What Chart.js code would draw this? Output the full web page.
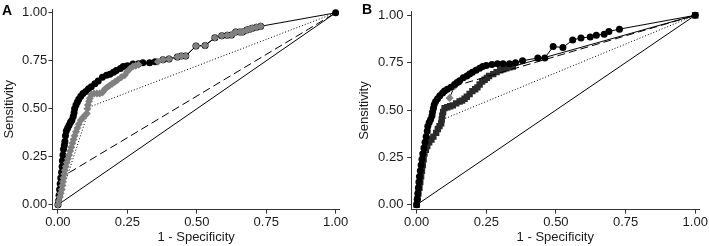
<!DOCTYPE html>
<html>
<head>
<meta charset="utf-8">
<script src="https://cdn.jsdelivr.net/npm/chart.js@4.4.0/dist/chart.umd.min.js"></script>
<style>
html, body { margin: 0; padding: 0; background: #fff; }
#wrap { position: relative; width: 709px; height: 246px; overflow: hidden; }
.panel { position: absolute; top: 0; height: 246px; }
#pa { left: 0; width: 355px; }
#pb { left: 355px; width: 354px; }
.tag { position: absolute; font: bold 14px "Liberation Sans", Arial, sans-serif; color: #000; line-height: 16px; }
</style>
</head>
<body>
<div id="wrap">
  <div class="panel" id="pa"><canvas id="chartA"></canvas></div>
  <div class="panel" id="pb"><canvas id="chartB"></canvas></div>
  <div class="tag" style="left:2px;top:2px">A</div>
  <div class="tag" style="left:362px;top:1px">B</div>
</div>
<script>
// axis ticks, shared by both panels
var tickVals = [0, 0.25, 0.5, 0.75, 1];

// panel A - black circles
var aBlackFpr = [0,0.002,0.004,0.006,0.008,0.01,0.013,0.015,0.016,0.018,0.02,0.023,0.025,0.027,0.03,0.035,0.04,0.045,0.05,0.055,0.058,0.06,0.065,0.07,0.075,0.082,0.09,0.1,0.11,0.12,0.133,0.145,0.16,0.175,0.187,0.2,0.21,0.225,0.235,0.25,0.27,0.29,0.306,0.33,0.35,0.378,0.4,0.43,0.445,0.46,0.497,0.53,0.565,0.59,0.61,0.625,0.64,0.655,0.665,0.68,0.69,0.7,0.715,0.73,1];
var aBlackTpr = [0,0.02,0.05,0.08,0.11,0.14,0.17,0.2,0.23,0.26,0.29,0.31,0.33,0.36,0.385,0.4,0.415,0.43,0.44,0.46,0.48,0.5,0.52,0.535,0.55,0.565,0.58,0.59,0.605,0.615,0.63,0.645,0.665,0.675,0.68,0.69,0.7,0.71,0.72,0.725,0.733,0.735,0.74,0.74,0.745,0.755,0.76,0.77,0.775,0.775,0.827,0.83,0.87,0.88,0.883,0.885,0.9,0.9,0.9,0.91,0.915,0.92,0.925,0.93,1];

// panel A - grey diamonds
var aGreyFpr = [0,0.003,0.007,0.01,0.014,0.016,0.018,0.02,0.023,0.025,0.028,0.032,0.036,0.04,0.044,0.048,0.052,0.056,0.06,0.065,0.07,0.075,0.082,0.09,0.097,0.104,0.106,0.108,0.112,0.115,0.12,0.13,0.14,0.15,0.16,0.168,0.175,0.185,0.195,0.205,0.215,0.228,0.24,0.25,0.26,0.27,0.28,0.29,0.36,0.378,0.4,0.43,0.445,0.46,0.497,0.53,0.565,0.59,0.61,0.625,0.64,0.655,0.665,0.68,0.69,0.7,0.715,0.73];
var aGreyTpr = [0,0.02,0.04,0.06,0.08,0.1,0.12,0.14,0.16,0.18,0.2,0.22,0.24,0.26,0.28,0.3,0.32,0.34,0.36,0.38,0.4,0.42,0.44,0.455,0.465,0.475,0.5,0.52,0.54,0.555,0.575,0.58,0.58,0.58,0.585,0.6,0.61,0.62,0.63,0.64,0.65,0.665,0.675,0.695,0.71,0.72,0.725,0.73,0.745,0.755,0.76,0.77,0.775,0.775,0.827,0.83,0.87,0.88,0.883,0.885,0.9,0.9,0.9,0.91,0.915,0.92,0.925,0.93];

// panel A - single cut-off lines
var aDotFpr = [0, 0.115, 1];
var aDotTpr = [0, 0.51, 1];
var aDashFpr = [0, 0.02, 1];
var aDashTpr = [0, 0.15, 1];

// panel B - black circles
var bBlackFpr = [0,0.002,0.004,0.006,0.008,0.01,0.013,0.016,0.019,0.022,0.026,0.03,0.034,0.038,0.04,0.045,0.05,0.055,0.057,0.06,0.063,0.068,0.075,0.083,0.093,0.1,0.11,0.123,0.136,0.145,0.154,0.167,0.18,0.19,0.2,0.213,0.226,0.237,0.25,0.27,0.29,0.31,0.333,0.355,0.38,0.435,0.46,0.49,0.525,0.56,0.59,0.623,0.645,0.673,0.69,0.728,1];
var bBlackTpr = [0,0.03,0.06,0.09,0.12,0.15,0.18,0.21,0.24,0.27,0.3,0.33,0.36,0.39,0.415,0.435,0.45,0.47,0.49,0.51,0.53,0.545,0.56,0.575,0.59,0.6,0.61,0.62,0.635,0.645,0.655,0.67,0.68,0.69,0.7,0.71,0.72,0.73,0.735,0.74,0.745,0.745,0.745,0.75,0.76,0.775,0.775,0.835,0.83,0.87,0.88,0.886,0.895,0.9,0.915,0.927,1];

// panel B - dark squares
var bSquareFpr = [0,0.003,0.006,0.01,0.013,0.016,0.019,0.022,0.025,0.028,0.033,0.038,0.045,0.053,0.06,0.07,0.076,0.082,0.088,0.09,0.092,0.095,0.1,0.11,0.12,0.13,0.142,0.154,0.163,0.172,0.18,0.19,0.2,0.21,0.218,0.226,0.235,0.244,0.252,0.26,0.275,0.287,0.3,0.31,0.322,0.333,0.345,1];
var bSquareTpr = [0,0.03,0.06,0.09,0.12,0.15,0.18,0.21,0.24,0.27,0.29,0.31,0.33,0.345,0.36,0.38,0.4,0.415,0.43,0.45,0.47,0.49,0.51,0.515,0.52,0.525,0.535,0.545,0.55,0.56,0.57,0.585,0.6,0.61,0.62,0.635,0.65,0.66,0.67,0.68,0.69,0.7,0.71,0.715,0.72,0.725,0.73,1];

// panel B - single cut-off lines
var bDashFpr = [0.118, 0.136, 1];
var bDashTpr = [0.564, 0.626, 1];
var bDotFpr = [0.093, 1];
var bDotTpr = [0.45, 1];

var diagFpr = [0, 1];
var diagTpr = [0, 1];

var FONT = '"Liberation Sans", Arial, sans-serif';
var INK = '#1a1a1a';
var AXIS = '#333';

function pts(xs, ys) {
    return xs.map(function(x, i){ return {x: x, y: ys[i]}; });
}

function curve(xs, ys, o) {
    return {
        data: pts(xs, ys),
        showLine: true,
        borderColor: o.line || '#000',
        borderWidth: 1,
        borderDash: o.dash || [],
        pointStyle: o.style || 'circle',
        pointRadius: o.r || 0,
        pointBackgroundColor: o.fill || '#000',
        pointBorderWidth: 0,
        pointHoverRadius: 0,
        order: o.order
    };
}

function makeChart(id, datasets, yWidth, labelPad, padRight) {
    new Chart(document.getElementById(id), {
        type: 'scatter',
        data: { datasets: datasets },
        options: {
            responsive: true,
            maintainAspectRatio: false,
            animation: false,
            events: [],
            layout: { padding: { left: 0, right: padRight, top: 4.8, bottom: 0 } },
            plugins: { legend: { display: false }, tooltip: { enabled: false } },
            scales: {
                x: {
                    type: 'linear',
                    min: -0.02,
                    max: 1.015,
                    afterBuildTicks: function(s){ s.ticks = tickVals.map(function(v){ return {value: v}; }); },
                    afterFit: function(s){ s.height = 36.4; },
                    ticks: {
                        font: { family: FONT, size: 13 },
                        color: INK,
                        padding: 1,
                        maxRotation: 0,
                        autoSkip: false,
                        callback: function(v){ return v.toFixed(2); }
                    },
                    grid: { drawOnChartArea: false, drawTicks: true, tickLength: 4, color: AXIS },
                    border: { display: true, color: AXIS, width: 1 },
                    title: {
                        display: true,
                        text: '1 - Specificity',
                        font: { family: FONT, size: 13 },
                        color: INK,
                        padding: { top: 0, bottom: 1 }
                    }
                },
                y: {
                    type: 'linear',
                    min: -0.025,
                    max: 1.02,
                    afterBuildTicks: function(s){ s.ticks = tickVals.map(function(v){ return {value: v}; }); },
                    afterFit: function(s){ s.width = yWidth; },
                    ticks: {
                        font: { family: FONT, size: 13 },
                        color: INK,
                        padding: labelPad,
                        autoSkip: false,
                        callback: function(v){ return v.toFixed(2); }
                    },
                    grid: { drawOnChartArea: false, drawTicks: true, tickLength: 4, color: AXIS },
                    border: { display: true, color: AXIS, width: 1 },
                    title: {
                        display: true,
                        text: 'Sensitivity',
                        font: { family: FONT, size: 13 },
                        color: INK,
                        padding: { top: 2, bottom: 0 }
                    }
                }
            }
        }
    });
}

makeChart('chartA', [
    curve(aGreyFpr, aGreyTpr, { style: 'rectRot', r: 4, fill: '#808080', order: 1 }),
    curve(aBlackFpr, aBlackTpr, { style: 'circle', r: 3.5, fill: '#000', order: 2 }),
    curve(aDotFpr, aDotTpr, { dash: [1, 2], order: 3 }),
    curve(aDashFpr, aDashTpr, { dash: [8, 4], order: 4 }),
    curve(diagFpr, diagTpr, { order: 5 })
], 52.4, 1.2, 15.2);

makeChart('chartB', [
    curve(bBlackFpr, bBlackTpr, { style: 'circle', r: 3.5, fill: '#000', order: 1 }),
    curve(bDashFpr, bDashTpr, { dash: [8, 4], style: 'rectRot', r: 4, fill: '#808080', order: 2 }),
    curve(bSquareFpr, bSquareTpr, { style: 'rect', r: 4.5, fill: '#2a2a2a', order: 3 }),
    curve(bDotFpr, bDotTpr, { dash: [1, 2], order: 4 }),
    curve(diagFpr, diagTpr, { order: 5 })
], 56.1, 3.7, 9);
</script>
</body>
</html>
